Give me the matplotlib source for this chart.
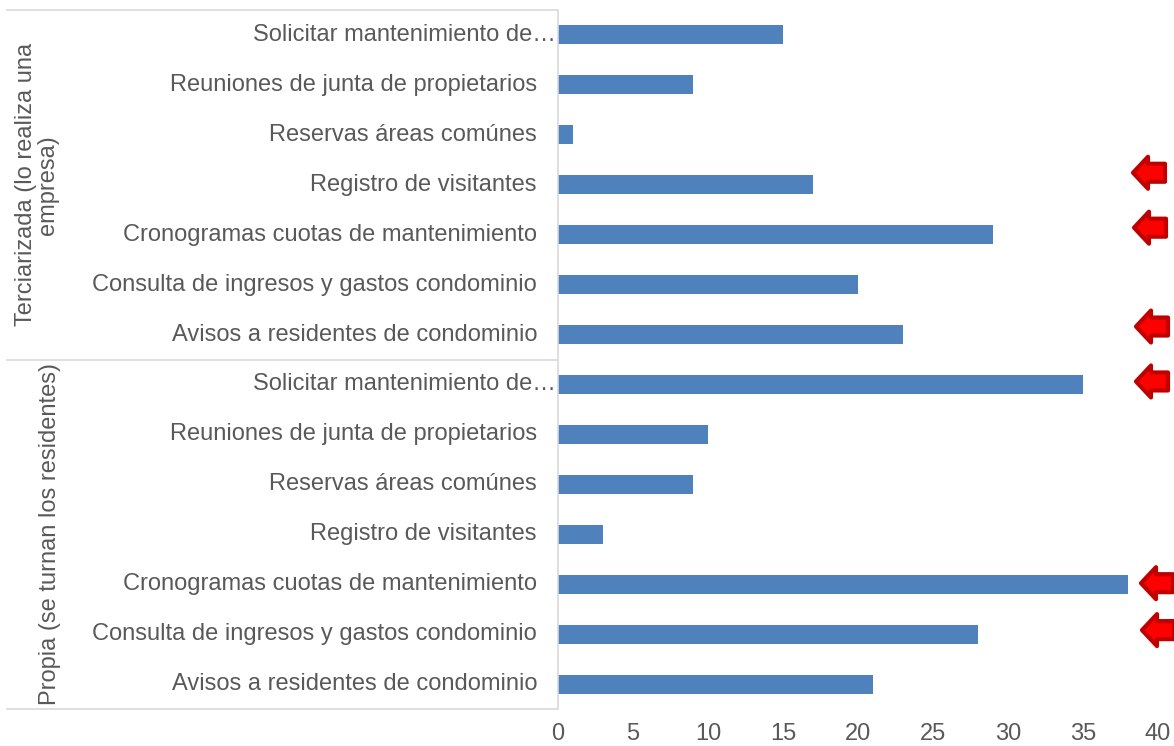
import matplotlib
matplotlib.use("Agg")
import matplotlib.pyplot as plt
import matplotlib.transforms as mtransforms
from matplotlib.patches import Polygon

plt.rcParams['font.family'] = ['Liberation Sans', 'DejaVu Sans']

# categories top to bottom inside each group
tasks = [
    "Solicitar mantenimiento de…",
    "Reuniones de junta de propietarios",
    "Reservas áreas comúnes",
    "Registro de visitantes",
    "Cronogramas cuotas de mantenimiento",
    "Consulta de ingresos y gastos condominio",
    "Avisos a residentes de condominio",
]
groups = ["Terciarizada (lo realiza una\nempresa)", "Propia (se turnan los residentes)"]
terciarizada = [15, 9, 1, 17, 29, 20, 23]
propia = [35, 10, 9, 3, 38, 28, 21]

# rows flagged with a red arrow (index from the top)
flagged = [3, 4, 6, 7, 11, 12]

bar_color = "#4F81BD"
text_color = "#595959"
line_color = "#D9D9D9"
fs = 17

labels = tasks + tasks
values = terciarizada + propia
rows = list(range(len(values)))

fig = plt.figure(figsize=(11.74, 7.46), dpi=100)
W, H = 1174, 746
ax = fig.add_axes([558 / W, 1 - 709 / H, 600 / W, 699 / H])

ax.barh(rows, values, height=0.38, color=bar_color)
ax.set_xlim(0, 40)
ax.set_ylim(len(rows) - 0.5, -0.5)
ax.set_xticks(range(0, 41, 5))
ax.tick_params(axis="x", length=0, pad=10, labelsize=fs, labelcolor=text_color)
ax.set_yticks([])
for side in ["top", "right", "bottom"]:
    ax.spines[side].set_visible(False)
ax.spines["left"].set_color(line_color)
ax.spines["left"].set_linewidth(1.2)

blend = mtransforms.blended_transform_factory(fig.transFigure, ax.transData)

# category labels
for r, lab in zip(rows, labels):
    x = 556 / W if lab.endswith("…") else 537 / W
    ax.text(x, r, lab, transform=blend, ha="right", va="center",
            fontsize=fs, color=text_color)

# group separators
for yb in [-0.5, len(tasks) - 0.5, len(rows) - 0.5]:
    ax.plot([7 / W, 557 / W], [yb, yb], transform=blend, color=line_color,
            lw=1.2, clip_on=False)

# group labels
ax.text(37 / W, (len(tasks) - 1) / 2, groups[0], transform=blend, rotation=90,
        ha="center", va="center", multialignment="center", fontsize=fs,
        color=text_color, linespacing=1.0)
ax.text(50 / W, len(tasks) + (len(tasks) - 1) / 2, groups[1], transform=blend,
        rotation=90, ha="center", va="center", fontsize=fs, color=text_color)

# red arrows pointing at flagged rows
arrow_x = [1149, 1150, 1152, 1152, 1157, 1158]
arrow_dy = [12, 7, 8, 3, 1, 4]
shape = [(-16, 0), (-1, 16), (-1, 9), (16, 9), (16, -9), (-1, -9), (-1, -16)]
for r, ax_px, dy in zip(flagged, arrow_x, arrow_dy):
    cx, cy = blend.transform((ax_px / W, r))
    verts = [(cx + sx, cy + sy + dy) for sx, sy in shape]
    fig.add_artist(Polygon(verts, closed=True, transform=None, facecolor="#FF0000",
                           edgecolor="#C00000", lw=3, joinstyle="round"))

fig.savefig("out.png", dpi=100)
